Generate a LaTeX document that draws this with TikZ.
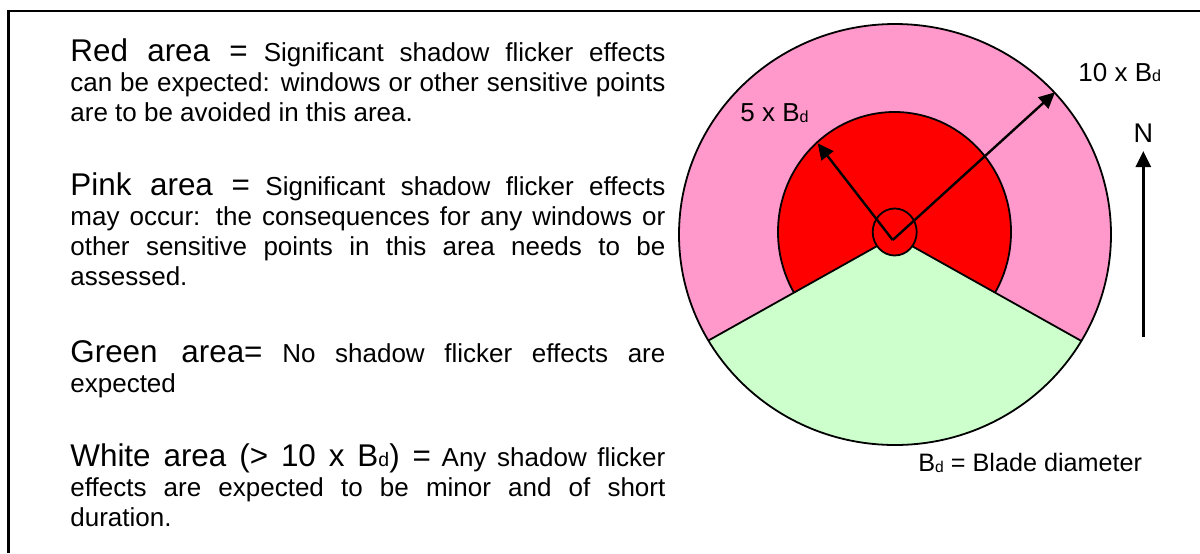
\documentclass[tikz,border=0pt]{standalone}
\usepackage{fontspec}
\setmainfont{Liberation Sans}
\usetikzlibrary{arrows.meta, positioning}
\definecolor{zonepink}{HTML}{FF99CC}
\definecolor{zonered}{HTML}{FF0000}
\definecolor{zonegreen}{HTML}{CCFFCC}
\newcommand{\Bd}{B\raisebox{-0.3pt}{\scalebox{0.62}{d}}}
\newcommand{\hd}[1]{{\fontsize{15.7}{15}\selectfont #1}}

\begin{document}
\begin{tikzpicture}[
    x=0.5pt, y=-0.5pt,
    legend/.style={anchor=base west, inner sep=0pt, text width=297.5pt, align=justify, font=\fontsize{13}{15}\selectfont},
    lbl/.style={anchor=base west, inner sep=0pt, font=\fontsize{13}{15}\selectfont},
    zone/.style={draw, line width=0.9pt},
    arr/.style={-{Triangle[length=8pt, width=7.5pt]}, line width=1.2pt}
]
\useasboundingbox (0,0) rectangle (1200,553);
\draw[line width=1.2pt] (8.5,553) -- (8.5,11) -- (1200,11);

% legend
\node[legend] (red) at (70,61.5) {\hd{Red area =} Significant shadow flicker effects\linebreak can be expected: windows or other sensitive points\linebreak are to be avoided in this area.};
\node[legend] (pink) at (70,195) {\hd{Pink area =} Significant shadow flicker effects\linebreak may occur: the consequences for any windows or\linebreak other sensitive points in this area needs to be\linebreak assessed.};
\node[legend] (green) at (70,362.5) {\hd{Green area=} No shadow flicker effects are\linebreak expected};
\node[legend] (white) at (70,466) {\hd{White area (> 10 x \Bd) =} Any shadow flicker\linebreak effects are expected to be minor and of short\linebreak duration.};

% zones
\fill[zonepink] (895,234.5) ellipse[x radius=216, y radius=210.5];
\fill[zonered] (894.5,232) ellipse[x radius=116.5, y radius=120];
\draw[zone] (894.5,232) ellipse[x radius=116.5, y radius=120];
\begin{scope}
  \clip (895,234.5) ellipse[x radius=216, y radius=210.5];
  \coordinate (apex) at (894.5,236.3);
  \fill[zonegreen] (apex) -- +(150.75:700) -- +(29.25:700) -- cycle;
  \draw[line width=0.9pt] (apex) -- +(150.75:700);
  \draw[line width=0.9pt] (apex) -- +(29.25:700);
\end{scope}
\draw[zone] (895,234.5) ellipse[x radius=216, y radius=210.5];
\filldraw[zone, fill=zonered] (894.7,232) ellipse[x radius=22, y radius=23.5];

% radii
\coordinate (hub) at (892.7,240);
\coordinate (tip5) at (817.7,143.3);
\coordinate (tip10) at (1055,92.3);
\draw[arr] (hub) -- (tip5);
\draw[arr] (hub) -- (tip10);
\node[lbl] (five) at (740,121.6) {5 x \Bd};
\node[lbl] (ten) at (1078,81) {10 x \Bd};

% north
\node[anchor=base, inner sep=0pt, font=\fontsize{13.5}{15}\selectfont] (north) at (1143.3,142) {N};
\coordinate (ntip) at (1143.3,151);
\coordinate (nfoot) at (1143.3,337);
\draw[arr] (nfoot) -- (ntip);

\node[lbl, font=\fontsize{12.6}{15}\selectfont] (key) at (918,471.6) {\Bd{} = Blade diameter};
\end{tikzpicture}
\end{document}
